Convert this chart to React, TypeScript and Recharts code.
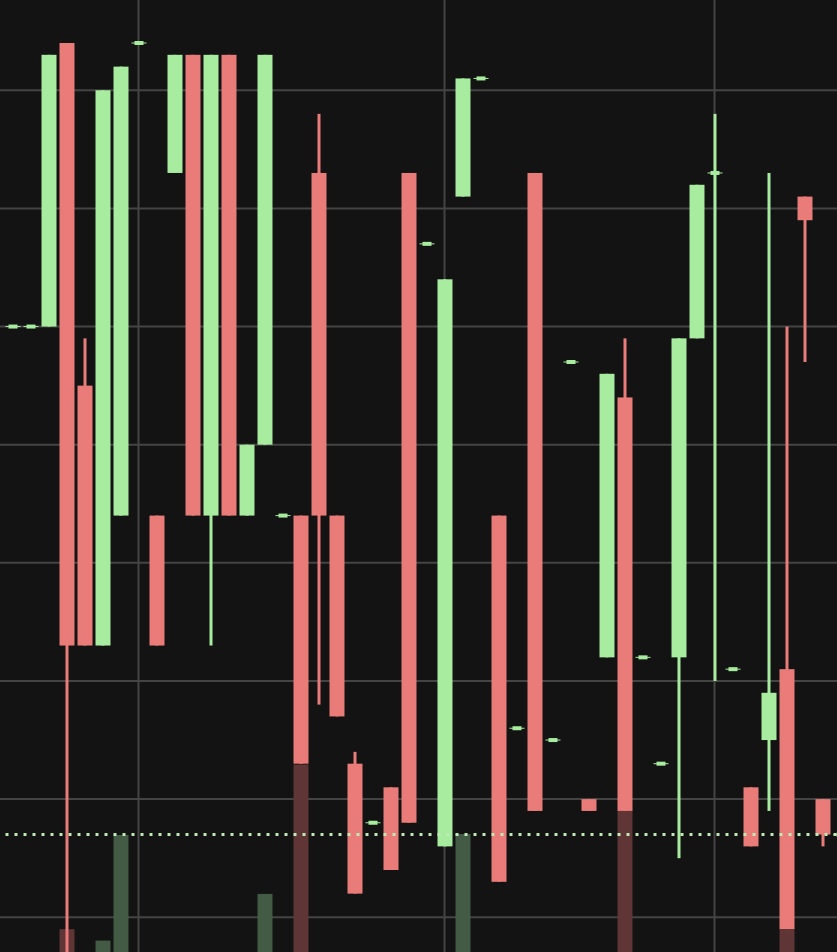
import { ComposedChart, Bar, XAxis, YAxis, CartesianGrid, ReferenceLine, Cell } from 'recharts';

const categories = [
  'c01', 'c02', 'c03', 'c04', 'c05', 'c06', 'c07', 'c08', 'c09', 'c10',
  'c11', 'c12', 'c13', 'c14', 'c15', 'c16', 'c17', 'c18', 'c19', 'c20',
  'c21', 'c22', 'c23', 'c24', 'c25', 'c26', 'c27', 'c28', 'c29', 'c30',
  'c31', 'c32', 'c33', 'c34', 'c35', 'c36', 'c37', 'c38', 'c39', 'c40',
  'c41', 'c42', 'c43', 'c44', 'c45', 'c46', 'c47'
];
const opens = [60, 60, 60, 84, 55, 33, 44, 84, 44, 73, 83, 44, 83, 44, 50, 44, 44, 73, 44, 23, 18, 21, 73, 67, 16, 71, 81, 44, 26, 73, 25, 57, 20, 32, 54, 32, 23, 32, 59, 73, 31, 21, 25, 31, 71, 20, 17];
const closes = [60, 60, 83, 33, 33, 80, 82, 84, 33, 83, 44, 83, 44, 50, 83, 44, 23, 44, 27, 12, 18, 14, 18, 67, 64, 81, 81, 13, 26, 19, 25, 57, 19, 56, 19, 32, 23, 59, 72, 73, 31, 16, 29, 9, 69, 17, 17];
const highs = [60, 60, 83, 84, 59, 80, 82, 84, 44, 83, 83, 83, 83, 50, 83, 44, 44, 78, 44, 24, 18, 21, 73, 67, 64, 81, 81, 44, 26, 73, 25, 57, 20, 56, 59, 32, 23, 59, 72, 78, 31, 21, 73, 60, 71, 20, 17];
const lows = [60, 60, 60, 5, 33, 33, 44, 84, 33, 73, 44, 33, 44, 44, 50, 44, 23, 28, 27, 12, 18, 14, 18, 67, 16, 71, 81, 13, 26, 19, 25, 57, 19, 32, 19, 32, 23, 15, 59, 30, 31, 16, 19, 9, 57, 16, 17];
const volumes = [0, 0, 0, 2.4, 0, 1.2, 12.3, 0, 0, 0, 0, 0, 0, 0, 6.1, 0, 19.7, 0, 0, 0, 0, 0, 0, 0, 0, 12.4, 0, 0, 0, 0, 0, 0, 0, 0, 14.8, 0, 0, 0, 0, 0, 0, 0, 0, 2.4, 0, 0, 0];
const priceTicks = [10, 20, 30, 40, 50, 60, 70, 80];
const timeTicks = ['c08', 'c25', 'c40'];
const lastPrice = 17;

const UP = '#a8ec9f';
const DOWN = '#e97b78';
const UP_VOL = '#435a45';
const DOWN_VOL = '#5f3535';
const GRID = '#444444';

const data = categories.map((name, i) => ({
  name,
  open: opens[i],
  close: closes[i],
  high: highs[i],
  low: lows[i],
  volume: volumes[i]
}));

function Candle(props: any) {
  const { x, y, width, height, payload } = props;
  if (x == null || y == null) return null;
  const { open, close, high, low } = payload;
  const top = Math.min(y, y + height);
  const h = Math.abs(height);
  const k = high > low ? h / (high - low) : 0;
  const yOf = (v: number) => top + (high - v) * k;
  const color = close >= open ? UP : DOWN;
  const cx = x + width / 2;
  const bodyTop = yOf(Math.max(open, close));
  const bodyBottom = yOf(Math.min(open, close));
  return (
    <g>
      {high > low && <rect x={cx - 1.5} y={top} width={3} height={h} fill={color} />}
      {open === close ? (
        <g>
          <rect x={x} y={bodyTop - 0.5} width={width} height={1} fill={color} />
          <rect x={cx - 4.5} y={bodyTop - 2} width={9} height={4} fill={color} />
        </g>
      ) : (
        <rect x={x} y={bodyTop} width={width} height={bodyBottom - bodyTop} fill={color} />
      )}
    </g>
  );
}

export default function App() {
  return (
    <div style={{ position: 'absolute', left: 0, top: 0, width: 837, height: 952, overflow: 'hidden', background: '#131313' }}>
      <ComposedChart width={850} height={952} data={data} margin={{ top: 0, right: 0, bottom: 0, left: 0 }}>
        <CartesianGrid stroke={GRID} strokeWidth={2} horizontalValues={priceTicks} verticalValues={timeTicks} />
        <XAxis dataKey="name" hide padding={{ left: 3.5, right: 0.5 }} />
        <XAxis xAxisId="vol" dataKey="name" hide padding={{ left: 3.5, right: 0.5 }} />
        <YAxis hide domain={[7.06, 87.64]} allowDataOverflow />
        <YAxis yAxisId="vol" hide domain={[0, 100]} />
        <Bar xAxisId="vol" yAxisId="vol" dataKey="volume" barSize={15} isAnimationActive={false}>
          {data.map((d, i) => <Cell key={`v-${i}`} fill={d.close >= d.open ? UP_VOL : DOWN_VOL} />)}
        </Bar>
        <Bar dataKey={(d: any) => [d.low, d.high]} barSize={15} shape={Candle} isAnimationActive={false} />
        <ReferenceLine y={lastPrice} stroke="#bfeab6" strokeWidth={3} strokeDasharray="3 6" strokeDashoffset={3.5} />
      </ComposedChart>
    </div>
  );
}
